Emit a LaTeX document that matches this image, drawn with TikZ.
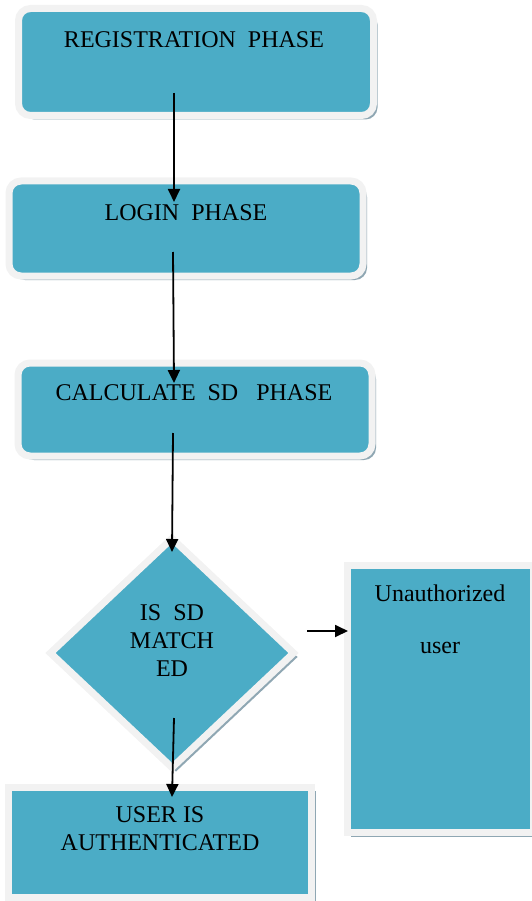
\documentclass[tikz,border=0pt]{standalone}
\usepackage{fontspec}
\setmainfont{Liberation Serif}
\usetikzlibrary{arrows.meta,shapes.geometric,shadows}
\definecolor{boxblue}{HTML}{4BACC6}
\definecolor{rimgray}{HTML}{F2F2F2}
\definecolor{shadowgray}{HTML}{8FA7B3}
\begin{document}
\begin{tikzpicture}[x=1pt,y=-1pt,
  boxbase/.style={fill=boxblue,draw=rimgray,line width=7pt,inner sep=0pt,
    drop shadow={shadow xshift=4pt,shadow yshift=-4pt,fill=shadowgray,opacity=1}},
  roundbox/.style={boxbase,rectangle,rounded corners=12pt},
  squarebox/.style={boxbase,rectangle},
  diabox/.style={boxbase,diamond},
  txt/.style={font=\fontsize{24}{28}\selectfont,align=center,inner sep=0pt},
  arr/.style={line width=1.8pt,-{Triangle[length=13pt,width=12pt]}}]
\useasboundingbox (0,0) rectangle (532,901);
% boxes
\node[roundbox,minimum width=355pt,minimum height=107pt] (reg) at (196,62) {};
\node[roundbox,minimum width=354pt,minimum height=95pt] (login) at (186,228.5) {};
\node[roundbox,minimum width=354pt,minimum height=93pt] (calc) at (195,409.5) {};
\node[diabox,minimum width=246pt,minimum height=232pt] (dia) at (172,653) {};
\node[squarebox,minimum width=186pt,minimum height=267pt] (unauth) at (440,699) {};
\node[squarebox,minimum width=303.5pt,minimum height=110pt] (auth) at (160,842) {};
% texts
\node[txt] (regt) at (194,40) {REGISTRATION\ \ PHASE};
\node[txt] (logint) at (186,213) {LOGIN\ \ PHASE};
\node[txt] (calct) at (194,393) {CALCULATE\ \ SD\ \ \ PHASE};
\node[txt] (diat) at (172,641) {IS\ \ SD\\MATCH\\ED};
\node[txt] (unautht1) at (440,593) {Unauthorized};
\node[txt] (unautht2) at (440,648) {user};
\node[txt] (autht) at (160,829) {USER IS\\AUTHENTICATED};
% connectors
\draw[arr] ([shift={(-22,31)}]reg.center) -- ([shift={(-12,-26.5)}]login.center);
\draw[arr] ([shift={(-13,23.5)}]login.center) -- ([shift={(-21,-26.5)}]calc.center);
\draw[arr] ([shift={(-22,23.5)}]calc.center) -- ([shift={(0,-101)}]dia.center);
\draw[arr] ([shift={(2,65)}]dia.center) -- ([shift={(12,-45)}]auth.center);
\draw[arr] ([shift={(135,-22)}]dia.center) -- ([shift={(-92,-68)}]unauth.center);
\end{tikzpicture}
\end{document}
